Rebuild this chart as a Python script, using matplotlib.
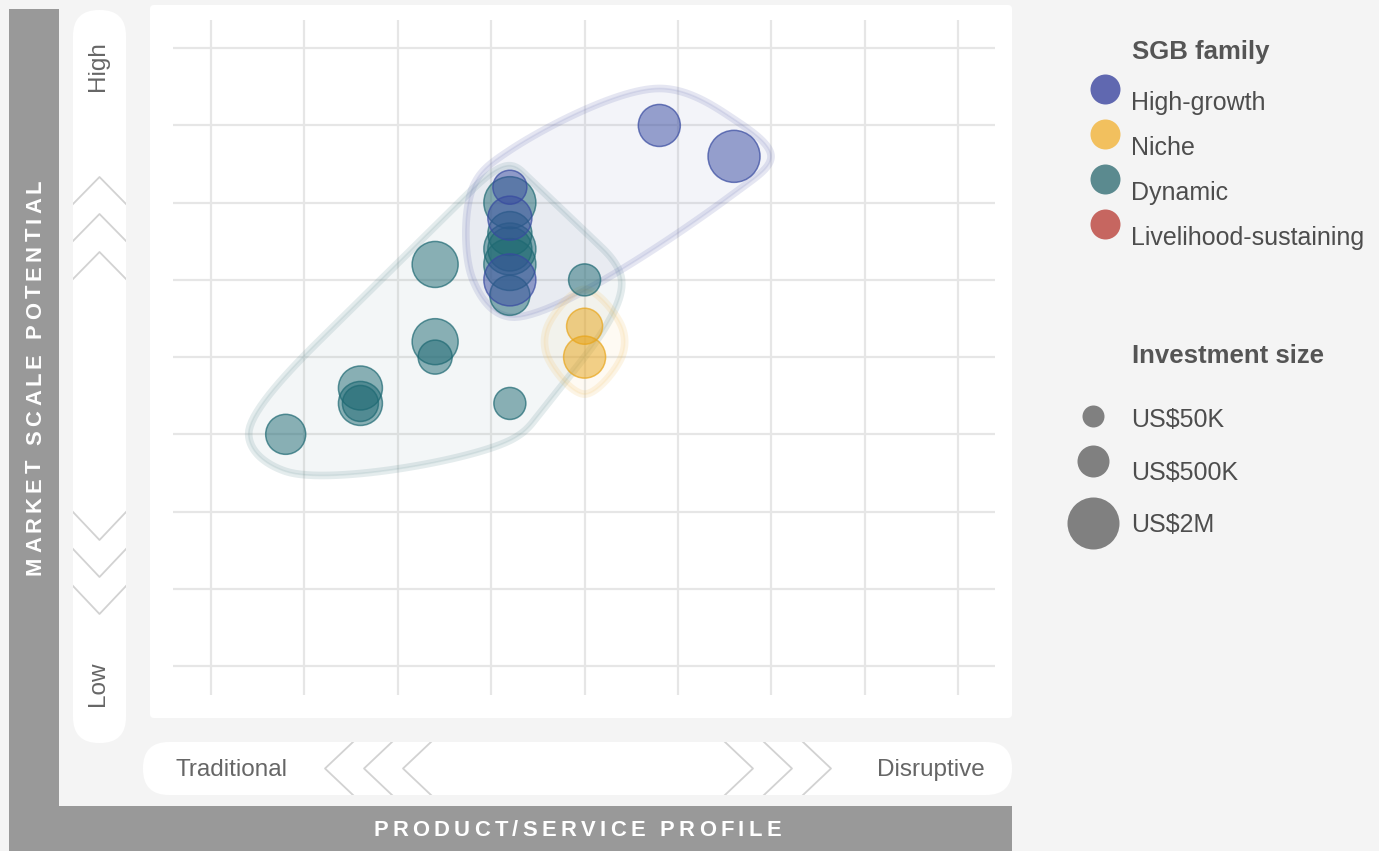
import numpy as np
import matplotlib
matplotlib.use('Agg')
import matplotlib.pyplot as plt
from matplotlib.colors import to_rgba
from matplotlib.patches import FancyBboxPatch, Polygon
from matplotlib.font_manager import FontProperties, findfont, get_font

plt.rcParams['font.family'] = ['Liberation Sans', 'DejaVu Sans']

W, H, DPI = 1379, 851, 100

# SGB families, legend colours and the deeper tones used for the bubbles
families = ['High-growth', 'Niche', 'Dynamic', 'Livelihood-sustaining']
family_colors = ['#6068b0', '#f2c05e', '#5b8a8f', '#c66660']
bubble_colors = ['#374aa0', '#e8a51a', '#1e6973', '#b04a44']

# one entry per business: family, product profile (0-10), market scale (0-10), investment (US$K)
point_family = ['Dynamic'] * 15 + ['High-growth'] * 5 + ['Niche'] * 2
point_x = [1, 2, 2, 2, 3, 3, 3, 4, 5, 4, 4, 4, 4, 4, 4,
           6, 7, 4, 4, 4,
           5, 5]
point_y = [3.75, 4.5, 4.25, 4.25, 6.5, 5.25, 5.0, 4.25, 6.25, 7.5, 7.0, 6.75, 6.75, 6.5, 6.0,
           8.75, 8.25, 7.75, 7.25, 6.25,
           5.5, 5.0]
point_invest = [1100, 1400, 1400, 800, 1550, 1550, 650, 500, 500, 2000, 1400, 2000, 1400, 2000, 1100,
                1250, 2000, 650, 1400, 2000,
                800, 1250]

size_levels = [50, 500, 2000]
size_labels = ['US$50K', 'US$500K', 'US$2M']

grid_ticks = np.arange(0, 10.01, 1.25)

# radius scale (pixels) for investment size
RADIUS_STOPS = [11, 16, 26]


def marker_area(invest):
    r = np.interp(invest, size_levels, RADIUS_STOPS)
    return (2 * r * 72 / DPI) ** 2


def convex_hull(pts):
    pts = sorted(set(map(tuple, np.round(pts, 4))))
    if len(pts) < 3:
        return np.array(pts)

    def cross(o, a, b):
        return (a[0] - o[0]) * (b[1] - o[1]) - (a[1] - o[1]) * (b[0] - o[0])

    lower, upper = [], []
    for p in pts:
        while len(lower) >= 2 and cross(lower[-2], lower[-1], p) <= 0:
            lower.pop()
        lower.append(p)
    for p in reversed(pts):
        while len(upper) >= 2 and cross(upper[-2], upper[-1], p) <= 0:
            upper.pop()
        upper.append(p)
    return np.array(lower[:-1] + upper[:-1])


def catmull_rom_closed(P, n=30, alpha=0.5):
    m = len(P)
    out = []
    for i in range(m):
        p0, p1, p2, p3 = P[(i - 1) % m], P[i], P[(i + 1) % m], P[(i + 2) % m]
        t0 = 0.0
        t1 = t0 + np.linalg.norm(p1 - p0) ** alpha
        t2 = t1 + np.linalg.norm(p2 - p1) ** alpha
        t3 = t2 + np.linalg.norm(p3 - p2) ** alpha
        t = np.linspace(t1, t2, n, endpoint=False)[:, None]
        a1 = (t1 - t) / (t1 - t0) * p0 + (t - t0) / (t1 - t0) * p1
        a2 = (t2 - t) / (t2 - t1) * p1 + (t - t1) / (t2 - t1) * p2
        a3 = (t3 - t) / (t3 - t2) * p2 + (t - t2) / (t3 - t2) * p3
        b1 = (t2 - t) / (t2 - t0) * a1 + (t - t0) / (t2 - t0) * a2
        b2 = (t3 - t) / (t3 - t1) * a2 + (t - t1) / (t3 - t1) * a3
        out.append((t2 - t) / (t2 - t1) * b1 + (t - t1) / (t2 - t1) * b2)
    return np.vstack(out)


def smooth_hull(disp_pts, pad):
    # pad each point left/right/up/down, hull it, run a closed spline through
    # the corners and keep the convex envelope of the result
    offs = np.vstack([disp_pts + d for d in [(pad, 0), (-pad, 0), (0, pad), (0, -pad)]])
    corners = convex_hull(offs)
    return convex_hull(catmull_rom_closed(corners))


def tracked_text(ax, cx, cy, s, size_pt, spacing, vertical=False, color='white'):
    fp = FontProperties(family='Liberation Sans', weight='bold', size=size_pt)
    font = get_font(findfont(fp), hinting_factor=1)
    font.set_size(size_pt, DPI)
    adv = [font.load_char(ord(ch)).linearHoriAdvance / 65536 for ch in s]
    total = sum(adv) + spacing * (len(s) - 1)
    pos = -total / 2
    for ch, a in zip(s, adv):
        if vertical:
            ax.text(cx, cy - pos, ch, rotation=90, rotation_mode='anchor',
                    ha='left', va='baseline', fontproperties=fp, color=color)
        else:
            ax.text(cx + pos, cy, ch, ha='left', va='baseline',
                    fontproperties=fp, color=color)
        pos += a + spacing


fig = plt.figure(figsize=(W / DPI, H / DPI), dpi=DPI, facecolor='#f4f4f4')

# pixel-space layer for frame, pills and legend
deco = fig.add_axes([0, 0, 1, 1])
deco.set_xlim(0, W)
deco.set_ylim(H, 0)
deco.axis('off')
deco.set_zorder(0)

GREY_BAR = '#999999'
deco.add_patch(plt.Rectangle((9, 9), 50, H - 9, color=GREY_BAR, lw=0))
deco.add_patch(plt.Rectangle((59, 806), 953, H - 806, color=GREY_BAR, lw=0))
deco.add_patch(FancyBboxPatch((150, 5), 862, 713, boxstyle='round,pad=0,rounding_size=4',
                              fc='white', ec='none'))

vpill = FancyBboxPatch((73, 10), 53, 733, boxstyle='round,pad=0,rounding_size=26',
                       fc='white', ec='none')
hpill = FancyBboxPatch((143, 742), 869, 53, boxstyle='round,pad=0,rounding_size=26',
                       fc='white', ec='none')
deco.add_patch(vpill)
deco.add_patch(hpill)

CHEV = '#d2d2d2'
for apex in [177, 214, 252]:
    ln, = deco.plot([73, 99.5, 126], [apex + 27, apex, apex + 27], color=CHEV, lw=1.3)
    ln.set_clip_path(vpill)
for apex in [540, 577, 614]:
    ln, = deco.plot([73, 99.5, 126], [apex - 28, apex, apex - 28], color=CHEV, lw=1.3)
    ln.set_clip_path(vpill)
for apex in [325, 364, 403]:
    ln, = deco.plot([apex + 28, apex, apex + 28], [742, 768.5, 795], color=CHEV, lw=1.3)
    ln.set_clip_path(hpill)
for apex in [753, 792, 831]:
    ln, = deco.plot([apex - 28, apex, apex - 28], [742, 768.5, 795], color=CHEV, lw=1.3)
    ln.set_clip_path(hpill)

END_COLOR = '#666666'
deco.text(175, 776, 'Traditional', fontsize=17.5, color=END_COLOR, ha='left', va='baseline')
deco.text(985, 776, 'Disruptive', fontsize=17.5, color=END_COLOR, ha='right', va='baseline')
deco.text(98, 66, 'High', fontsize=17.5, color=END_COLOR, rotation=90, ha='center', va='center')
deco.text(98, 684, 'Low', fontsize=17.5, color=END_COLOR, rotation=90, ha='center', va='center')

tracked_text(deco, 577, 836, 'PRODUCT/SERVICE PROFILE', 15.8, 4.3)
tracked_text(deco, 41, 377, 'MARKET SCALE POTENTIAL', 15.8, 4.3, vertical=True)

# legend: families
LEG_TEXT = '#4d4d4d'
deco.text(1132, 59, 'SGB family', fontsize=18.5, fontweight='bold', color='#555555',
          ha='left', va='baseline')
for i, (name, col) in enumerate(zip(families, family_colors)):
    yy = 89 + 45 * i
    deco.scatter([1105], [yy], s=(2 * 15 * 72 / DPI) ** 2, color=col, lw=0)
    deco.text(1131, yy + 21, name, fontsize=18, color=LEG_TEXT, ha='left', va='baseline')

# legend: investment size
deco.text(1132, 363, 'Investment size', fontsize=18.5, fontweight='bold', color='#555555',
          ha='left', va='baseline')
for lvl, lab, yy, ty in zip(size_levels, size_labels, [416, 461, 523], [427, 480, 532]):
    deco.scatter([1093], [yy], s=marker_area(lvl), color='#808080', lw=0)
    deco.text(1131, ty, lab, fontsize=18, color=LEG_TEXT, ha='left', va='baseline')

# main data panel
ax = fig.add_axes([150 / W, (H - 718) / H, 862 / W, 713 / H])
ax.set_xlim(-0.816, 10.72)
ax.set_ylim(-0.842, 10.70)
ax.axis('off')
ax.set_zorder(1)
ax.patch.set_alpha(0)

ax.hlines(grid_ticks, -0.51, 10.49, color='#e6e6e6', lw=1.6, zorder=1)
ax.vlines(grid_ticks, -0.47, 10.46, color='#e6e6e6', lw=1.6, zorder=1)

fam = np.array(point_family)
px = np.array(point_x, dtype=float)
py = np.array(point_y, dtype=float)
pinv = np.array(point_invest, dtype=float)

PAD = 37
draw_order = ['Dynamic', 'High-growth', 'Niche']
for name in draw_order:
    col = family_colors[families.index(name)]
    m = fam == name
    if not m.any():
        continue
    disp = ax.transData.transform(np.column_stack([px[m], py[m]]))
    outline = ax.transData.inverted().transform(smooth_hull(disp, PAD))
    ax.add_patch(Polygon(outline, closed=True, fc=to_rgba(col, 0.07), ec='none', zorder=2))
    ax.add_patch(Polygon(outline, closed=True, fc='none', ec=to_rgba(col, 0.16), lw=5.5,
                         joinstyle='round', zorder=2))
    ax.add_patch(Polygon(outline, closed=True, fc='none', ec=to_rgba(col, 0.12), lw=1.2,
                         joinstyle='round', zorder=2))

for k, name in enumerate(draw_order):
    col = bubble_colors[families.index(name)]
    m = fam == name
    ax.scatter(px[m], py[m], s=marker_area(pinv[m]),
               fc=to_rgba(col, 0.5), ec=to_rgba(col, 0.7), lw=1.1, zorder=3 + k)

fig.savefig('out.png', dpi=DPI, facecolor=fig.get_facecolor())
